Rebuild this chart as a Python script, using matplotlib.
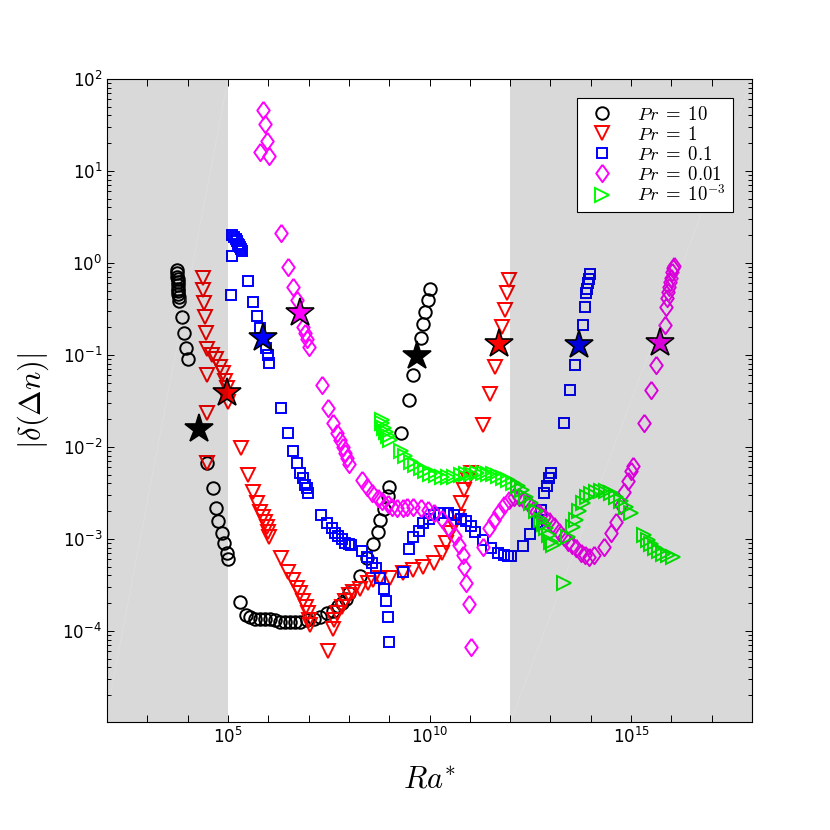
import numpy as np
import matplotlib
matplotlib.use('Agg')
import matplotlib.pyplot as plt
from matplotlib.font_manager import FontProperties
from matplotlib.ticker import FixedLocator, FuncFormatter, LogLocator, NullFormatter

# dati: esponenti log10(Ra*) e log10(|delta(Delta n)|)
pr10_lra = [3.73, 3.74, 3.74, 3.75, 3.75, 3.76, 3.76, 3.77, 3.77, 3.78, 3.78,
            3.86, 3.91, 3.96, 4.00,
            4.48, 4.63, 4.70, 4.75, 4.85, 4.90, 4.98, 5.00,
            5.30, 5.45, 5.55, 5.67, 5.80, 5.92, 6.04, 6.17, 6.29, 6.42, 6.54, 6.67, 6.79,
            6.97, 7.14, 7.29, 7.46, 7.61, 7.74, 7.84, 7.94, 7.99,
            8.28, 8.46, 8.61, 8.71, 8.78, 8.86, 8.96, 9.00,
            9.30, 9.48, 9.60, 9.78, 9.85, 9.90, 9.95, 10.00]
pr10_ld = [-0.08, -0.11, -0.15, -0.18, -0.21, -0.24, -0.28, -0.31, -0.34, -0.37, -0.41,
           -0.59, -0.76, -0.92, -1.04,
           -2.18, -2.45, -2.66, -2.81, -2.94, -3.05, -3.15, -3.22,
           -3.69, -3.83, -3.85, -3.87, -3.87, -3.87, -3.87, -3.88, -3.90, -3.90, -3.90, -3.90, -3.90,
           -3.88, -3.87, -3.85, -3.81, -3.78, -3.73, -3.70, -3.65, -3.59,
           -3.40, -3.21, -3.06, -2.93, -2.80, -2.67, -2.53, -2.44,
           -1.85, -1.49, -1.22, -0.82, -0.66, -0.53, -0.40, -0.28]

pr1_lra = [4.38, 4.38, 4.40, 4.43, 4.45, 4.48, 4.60, 4.70, 4.80, 4.88, 4.48, 4.93, 4.98, 5.00,
           4.48, 4.48,
           5.32, 5.50, 5.62, 5.72, 5.80, 5.87, 5.92, 5.97, 6.00, 6.02,
           6.32, 6.49, 6.62, 6.72, 6.79, 6.87, 6.94, 6.99, 7.02, 7.04,
           7.49, 7.61, 7.64, 7.71, 7.84, 7.91, 7.99, 8.11, 8.28, 8.48, 8.61, 8.78, 9.03,
           9.35, 9.60, 9.85, 10.10, 10.32, 10.42, 10.52, 10.60, 10.70, 10.77, 10.85, 10.95, 11.02,
           11.32, 11.49, 11.62, 11.79, 11.87, 11.92, 11.97]
pr1_ld = [-0.16, -0.30, -0.44, -0.59, -0.76, -0.94, -1.00, -1.05, -1.13, -1.20, -1.22, -1.28, -1.36, -1.51,
          -1.63, -2.18,
          -2.01, -2.31, -2.49, -2.61, -2.71, -2.76, -2.82, -2.87, -2.93, -2.98,
          -3.21, -3.36, -3.45, -3.53, -3.59, -3.67, -3.74, -3.81, -3.88, -3.94,
          -4.22, -3.98, -3.88, -3.81, -3.74, -3.67, -3.61, -3.58, -3.55, -3.48, -3.45, -3.43, -3.42,
          -3.37, -3.34, -3.31, -3.26, -3.15, -3.05, -2.94, -2.85, -2.76, -2.61, -2.47, -2.36, -2.28,
          -1.76, -1.42, -1.13, -0.70, -0.51, -0.33, -0.19]

pr01_lra = [5.10, 5.15, 5.20, 5.22, 5.25, 5.27, 5.30, 5.32, 5.35, 5.10,
            5.50, 5.07, 5.62, 5.72, 5.80, 5.95, 6.00, 6.02,
            6.32, 6.49, 6.62, 6.72, 6.79, 6.87, 6.92, 6.97, 6.99,
            7.31, 7.46, 7.59, 7.66, 7.74, 7.84, 7.91, 7.99, 8.06,
            8.33, 8.46, 8.58, 8.68, 8.78, 8.86, 8.91, 8.96, 9.00,
            9.33, 9.48, 9.60, 9.73, 9.85, 9.98, 10.10, 10.27, 10.45, 10.60, 10.77, 10.90, 11.02, 11.14,
            11.32, 11.52, 11.69, 11.84, 11.94, 12.01,
            12.31, 12.49, 12.66, 12.76, 12.84, 12.91, 12.96, 13.01,
            13.33, 13.48, 13.61, 13.81, 13.86, 13.88, 13.91, 13.93, 13.96, 13.98]
pr01_ld = [0.30, 0.28, 0.26, 0.24, 0.21, 0.19, 0.17, 0.15, 0.13, 0.08,
           -0.20, -0.35, -0.42, -0.58, -0.71, -0.92, -1.00, -1.09,
           -1.58, -1.85, -2.05, -2.18, -2.28, -2.34, -2.41, -2.45, -2.50,
           -2.74, -2.83, -2.88, -2.94, -2.97, -3.00, -3.04, -3.06, -3.07,
           -3.13, -3.20, -3.26, -3.32, -3.42, -3.54, -3.67, -3.85, -4.12,
           -3.36, -3.11, -2.98, -2.91, -2.83, -2.78, -2.74, -2.72, -2.72, -2.74, -2.78, -2.81, -2.86, -2.92,
           -3.01, -3.10, -3.15, -3.18, -3.19, -3.19,
           -3.08, -2.95, -2.82, -2.69, -2.50, -2.42, -2.34, -2.28,
           -1.74, -1.38, -1.11, -0.68, -0.48, -0.33, -0.28, -0.22, -0.17, -0.12]

pr001_lra = [5.87, 5.92, 5.97, 5.80, 6.02,
             6.32, 6.49, 6.62, 6.72, 6.87, 6.92, 6.97, 7.01,
             7.34, 7.49, 7.61, 7.71, 7.79, 7.86, 7.91, 7.96, 8.01,
             8.33, 8.46, 8.58, 8.71, 8.83, 8.96, 9.08, 9.20, 9.33, 9.45, 9.60, 9.78, 9.95, 10.10,
             10.32, 10.47, 10.62, 10.72, 10.82, 10.85, 10.90, 10.98, 11.02,
             11.32, 11.47, 11.59, 11.72, 11.84, 11.97, 12.09, 12.21, 12.34, 12.46, 12.59, 12.71,
             12.84, 12.96, 13.08, 13.21, 13.33, 13.43, 13.53, 13.63, 13.76, 13.86, 13.96, 14.08,
             14.33, 14.50, 14.63, 14.75, 14.83, 14.93, 15.00, 15.05,
             15.32, 15.50, 15.63, 15.83, 15.87, 15.90, 15.92, 15.95, 15.97, 16.00, 16.02, 16.05, 16.07]
pr001_ld = [1.66, 1.51, 1.32, 1.20, 1.16,
            0.32, -0.05, -0.26, -0.40, -0.70, -0.76, -0.83, -0.91,
            -1.33, -1.58, -1.74, -1.85, -1.93, -2.00, -2.07, -2.12, -2.19,
            -2.36, -2.44, -2.50, -2.56, -2.59, -2.62, -2.65, -2.66, -2.66, -2.65, -2.65, -2.66, -2.69, -2.72,
            -2.78, -2.87, -2.97, -3.07, -3.18, -3.31, -3.48, -3.71, -4.18,
            -3.09, -2.88, -2.79, -2.71, -2.63, -2.58, -2.55, -2.55, -2.58, -2.62, -2.68, -2.72,
            -2.76, -2.81, -2.86, -2.93, -2.98, -3.03, -3.07, -3.10, -3.15, -3.18, -3.20, -3.18,
            -3.09, -2.94, -2.82, -2.63, -2.49, -2.37, -2.26, -2.21,
            -1.74, -1.38, -1.11, -0.68, -0.48, -0.38, -0.32, -0.26, -0.21, -0.16, -0.10, -0.06, -0.03]

pr0001_lra = [8.81, 8.83, 8.86, 8.91, 8.96, 9.03, 9.28, 9.40, 9.53, 9.65, 9.78, 9.90, 10.02,
              10.17, 10.32, 10.45, 10.60, 10.77, 10.90, 11.04, 11.19, 11.32, 11.44, 11.57, 11.69,
              11.82, 11.94, 12.06, 12.19, 12.29, 12.39, 12.51, 12.64, 12.76, 12.84, 12.89, 12.96,
              13.01, 13.06, 13.33,
              13.43, 13.56, 13.63, 13.71, 13.81, 13.91, 14.00, 14.13, 14.25, 14.38, 14.50, 14.63,
              14.75, 14.88, 15.00,
              15.32, 15.42, 15.50, 15.60, 15.70, 15.80, 15.92, 16.05]
pr0001_ld = [-1.71, -1.74, -1.80, -1.84, -1.88, -1.93, -2.04, -2.10, -2.16, -2.20, -2.23, -2.26, -2.29,
             -2.31, -2.33, -2.33, -2.33, -2.31, -2.30, -2.29, -2.28, -2.28, -2.29, -2.30, -2.32,
             -2.34, -2.36, -2.39, -2.43, -2.47, -2.54, -2.61, -2.70, -2.79, -2.84, -2.88, -2.96,
             -3.03, -3.07, -3.48,
             -2.98, -2.87, -2.79, -2.70, -2.61, -2.55, -2.51, -2.49, -2.48, -2.48, -2.50, -2.54,
             -2.59, -2.65, -2.72,
             -2.96, -3.01, -3.06, -3.10, -3.13, -3.16, -3.18, -3.20]

# stelle (punti di riferimento)
star_lra = [4.28, 9.70, 4.98, 11.72, 5.87, 13.71, 6.79, 15.72]
star_ld = [-1.81, -1.01, -1.41, -0.88, -0.82, -0.89, -0.55, -0.87]
star_col = ['k', 'k', 'r', 'r', 'b', 'b', '#ff00ff', '#ff00ff']

plt.rcParams['font.family'] = ['DejaVu Sans']

fig = plt.figure(figsize=(8.3, 8.3), dpi=100)
ax = fig.add_axes([0.129, 0.130, 0.777, 0.775])
ax.set_xscale('log')
ax.set_yscale('log')

mew = 1.4
ax.plot(10**np.array(pr10_lra), 10**np.array(pr10_ld), 'o', mfc='none', mec='k', ms=9, mew=mew,
        label=r'$Pr\;=\;10$', zorder=3)
ax.plot(10**np.array(pr1_lra), 10**np.array(pr1_ld), 'v', mfc='none', mec='r', ms=10.5, mew=mew,
        label=r'$Pr\;=\;1$', zorder=3)
ax.plot(10**np.array(pr01_lra), 10**np.array(pr01_ld), 's', mfc='none', mec='b', ms=7, mew=mew,
        label=r'$Pr\;=\;0.1$', zorder=3)
diamond = [(0, 1), (0.72, 0), (0, -1), (-0.72, 0), (0, 1)]
ax.plot(10**np.array(pr001_lra), 10**np.array(pr001_ld), marker=diamond, ls='none', mfc='none',
        mec='#ff00ff', ms=12.5, mew=mew, label=r'$Pr\;=\;0.01$', zorder=3)
ax.plot(10**np.array(pr0001_lra), 10**np.array(pr0001_ld), '>', mfc='none', mec='#00ff00', ms=10.5,
        mew=mew, label=r'$Pr\;=\;10^{-3}$', zorder=3)

for lra, ld, c in zip(star_lra, star_ld, star_col):
    ax.plot(10**lra, 10**ld, '*', mfc=c, mec='k', ms=21, mew=1.2, zorder=4)

# zone grigie
ax.axvspan(1e2, 1e5, color='k', alpha=0.15, lw=0, zorder=5)
ax.axvspan(1e12, 1e18, color='k', alpha=0.15, lw=0, zorder=5)
ax.plot([1e2, 1e5], [1.3e-5, 1e2], color='w', alpha=0.12, lw=0.8, zorder=6)
ax.plot([1e12, 1e18], [1e-5, 1e2], color='w', alpha=0.12, lw=0.8, zorder=6)

ax.set_xlim(1e2, 1e18)
ax.set_ylim(1.02e-5, 1e2)

ax.xaxis.set_major_locator(FixedLocator([10.0**k for k in range(3, 18)]))
ax.xaxis.set_major_formatter(FuncFormatter(
    lambda v, p: r'$10^{%d}$' % round(np.log10(v)) if round(np.log10(v)) in (5, 10, 15) else ''))
ax.xaxis.set_minor_locator(FixedLocator([]))
ax.yaxis.set_major_locator(FixedLocator([10.0**k for k in range(-4, 3)]))
ax.yaxis.set_major_formatter(FuncFormatter(lambda v, p: r'$10^{%d}$' % round(np.log10(v))))
ax.yaxis.set_minor_locator(LogLocator(base=10, subs=np.arange(2, 10), numticks=20))
ax.yaxis.set_minor_formatter(NullFormatter())
ax.tick_params(which='both', direction='in', top=True, right=True, labelsize=12, width=0.7)
ax.tick_params(which='major', length=5)
ax.tick_params(which='minor', length=3)
for lab in ax.get_xticklabels() + ax.get_yticklabels():
    lab.set_math_fontfamily('dejavusans')
for s in ax.spines.values():
    s.set_linewidth(0.8)
    s.set_zorder(7)

ax.set_xlabel(r'$Ra^{*}$', fontsize=22, math_fontfamily='cm', labelpad=13)
ax.set_ylabel(r'$|\delta(\Delta n)|$', fontsize=22, math_fontfamily='cm', labelpad=8)

leg = ax.legend(loc='upper right', bbox_to_anchor=(0.97, 0.97), borderaxespad=0,
                prop=FontProperties(size=13.5, math_fontfamily='cm'), frameon=True, fancybox=False,
                edgecolor='k', framealpha=1, handlelength=2.0, handletextpad=0.9,
                labelspacing=0.05, borderpad=0.35)
leg.get_frame().set_linewidth(0.8)
leg.set_zorder(10)

plt.savefig('out.png', dpi=100)
